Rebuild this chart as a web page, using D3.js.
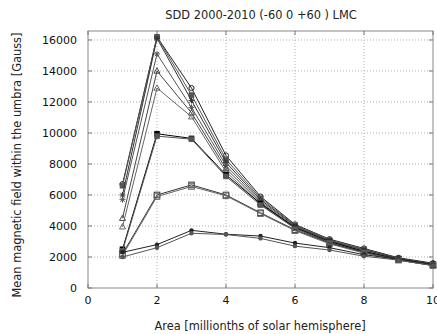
<!DOCTYPE html>
<html>
<head>
<meta charset="utf-8">
<script src="https://cdn.jsdelivr.net/npm/d3@7"></script>
<style>
  body { margin: 0; background: #fff; }
  svg { display: block; font-family: "DejaVu Sans", sans-serif; }
  .grid line { stroke: #b0b0b0; stroke-dasharray: 1,2; }
  .tick-label { font-size: 11px; fill: #111; }
</style>
</head>
<body>
<svg id="chart" width="437" height="334"></svg>
<script>
'use strict';

var areas = [1, 2, 3, 4, 5, 6, 7, 8, 9, 10];
var xTicks = [0, 2, 4, 6, 8, 10];
var yTicks = [0, 2000, 4000, 6000, 8000, 10000, 12000, 14000, 16000];

// mean field per area bin, one array per curve
var fieldA = [6700, 16200, 12900, 8550, 5900, 4100, 3150, 2550, 1950, 1600];
var fieldB = [6600, 16200, 12450, 8300, 5800, 4050, 3100, 2500, 1900, 1550];
var fieldC = [6000, 16100, 12100, 8100, 5700, 4000, 3050, 2450, 1900, 1550];
var fieldD = [5700, 15100, 11650, 7900, 5600, 3950, 3000, 2400, 1850, 1500];
var fieldE = [4500, 14000, 11300, 7700, 5500, 3900, 2950, 2350, 1850, 1500];
var fieldF = [3950, 12900, 11050, 7500, 5400, 3850, 2900, 2300, 1800, 1450];
var fieldG = [2500, 9950, 9650, 7300, 5450, 3900, 3000, 2350, 1850, 1500];
var fieldH = [2400, 9800, 9600, 7200, 5350, 3850, 2950, 2300, 1800, 1450];
var fieldI = [2200, 6000, 6650, 6000, 4850, 3750, 2900, 2300, 1850, 1500];
var fieldJ = [2100, 5900, 6550, 5950, 4800, 3700, 2850, 2250, 1800, 1450];
var fieldK = [2300, 2800, 3720, 3470, 3350, 2900, 2600, 2150, 1850, 1500];
var fieldL = [2000, 2600, 3530, 3450, 3200, 2700, 2450, 2050, 1800, 1450];

var curves = [
  {values: fieldA, mark: 'circle', color: '#222'},
  {values: fieldB, mark: 'fsquare', color: '#555'},
  {values: fieldC, mark: 'star', color: '#333'},
  {values: fieldD, mark: 'star', color: '#555'},
  {values: fieldE, mark: 'triangle', color: '#444'},
  {values: fieldF, mark: 'triangle', color: '#666'},
  {values: fieldG, mark: 'fsquare', color: '#000'},
  {values: fieldH, mark: 'fsquare', color: '#555'},
  {values: fieldI, mark: 'square', color: '#333'},
  {values: fieldJ, mark: 'square', color: '#666'},
  {values: fieldK, mark: 'fcircle', color: '#222'},
  {values: fieldL, mark: 'fcircle', color: '#555'}
];

var svg = d3.select('#chart');
var plotLeft = 88, plotRight = 433, plotTop = 31, plotBottom = 288;

var x = d3.scaleLinear().domain([0, 10]).range([plotLeft, plotRight]);
var y = d3.scaleLinear().domain([0, 16580]).range([plotBottom, plotTop]);

// dotted grid, skipping the frame edges
var grid = svg.append('g').attr('class', 'grid');
grid.selectAll('.gx')
    .data(xTicks.filter(function(d) { return d > 0 && d < 10; }))
  .enter().append('line')
    .attr('x1', function(d) { return x(d); })
    .attr('x2', function(d) { return x(d); })
    .attr('y1', plotTop).attr('y2', plotBottom);
grid.selectAll('.gy')
    .data(yTicks.filter(function(d) { return d > 0; }))
  .enter().append('line')
    .attr('x1', plotLeft).attr('x2', plotRight)
    .attr('y1', function(d) { return y(d); })
    .attr('y2', function(d) { return y(d); });

// frame
svg.append('rect')
    .attr('x', plotLeft).attr('y', plotTop)
    .attr('width', plotRight - plotLeft).attr('height', plotBottom - plotTop)
    .attr('fill', 'none').attr('stroke', '#888').attr('stroke-width', 1);

// inward ticks on all four sides
var ticks = svg.append('g').attr('stroke', '#777');
xTicks.forEach(function(d) {
  ticks.append('line').attr('x1', x(d)).attr('x2', x(d)).attr('y1', plotBottom).attr('y2', plotBottom - 4);
  ticks.append('line').attr('x1', x(d)).attr('x2', x(d)).attr('y1', plotTop).attr('y2', plotTop + 4);
});
yTicks.forEach(function(d) {
  ticks.append('line').attr('x1', plotLeft).attr('x2', plotLeft + 4).attr('y1', y(d)).attr('y2', y(d));
  ticks.append('line').attr('x1', plotRight).attr('x2', plotRight - 4).attr('y1', y(d)).attr('y2', y(d));
});

svg.append('g').selectAll('text')
    .data(xTicks)
  .enter().append('text')
    .attr('class', 'tick-label')
    .attr('x', function(d) { return x(d); })
    .attr('y', 304)
    .attr('text-anchor', 'middle')
    .text(function(d) { return d; });

svg.append('g').selectAll('text')
    .data(yTicks)
  .enter().append('text')
    .attr('class', 'tick-label')
    .attr('x', 77)
    .attr('y', function(d) { return y(d) + 4; })
    .attr('text-anchor', 'end')
    .text(function(d) { return d; });

svg.append('text')
    .attr('x', 261).attr('y', 19)
    .attr('text-anchor', 'middle')
    .attr('font-size', '11.4px').attr('fill', '#222')
    .text('SDD 2000-2010 (-60 0 +60 ) LMC');

svg.append('text')
    .attr('x', 260).attr('y', 330)
    .attr('text-anchor', 'middle')
    .attr('font-size', '11.4px').attr('fill', '#222')
    .text('Area [millionths of solar hemisphere]');

svg.append('text')
    .attr('transform', 'translate(21 165) rotate(-90)')
    .attr('text-anchor', 'middle')
    .attr('font-size', '11.4px').attr('fill', '#222')
    .text('Mean magnetic field within the umbra  [Gauss]');

var line = d3.line()
    .x(function(d, i) { return x(areas[i]); })
    .y(function(d) { return y(d); });

var plot = svg.append('g');

function drawMark(g, kind, color) {
  if (kind === 'circle') {
    g.append('circle').attr('r', 2.6).attr('fill', 'none').attr('stroke', color);
  } else if (kind === 'fcircle') {
    g.append('circle').attr('r', 2.2).attr('fill', color);
  } else if (kind === 'square') {
    g.append('rect').attr('x', -2.8).attr('y', -2.8).attr('width', 5.6).attr('height', 5.6)
        .attr('fill', 'none').attr('stroke', color);
  } else if (kind === 'fsquare') {
    g.append('rect').attr('x', -2.8).attr('y', -2.8).attr('width', 5.6).attr('height', 5.6)
        .attr('fill', color);
  } else if (kind === 'triangle') {
    g.append('path').attr('d', 'M0,-3.2L3,2.2L-3,2.2Z').attr('fill', 'none').attr('stroke', color);
  } else {
    g.append('path').attr('d', 'M-3,0H3M0,-3V3M-2.2,-2.2L2.2,2.2M-2.2,2.2L2.2,-2.2')
        .attr('stroke', color);
  }
}

curves.forEach(function(c) {
  plot.append('path')
      .datum(c.values)
      .attr('d', line)
      .attr('fill', 'none')
      .attr('stroke', c.color)
      .attr('stroke-width', 1);
  plot.selectAll(null)
      .data(c.values)
    .enter().append('g')
      .attr('transform', function(d, i) { return 'translate(' + x(areas[i]) + ',' + y(d) + ')'; })
      .each(function() { drawMark(d3.select(this), c.mark, c.color); });
});
</script>
</body>
</html>
